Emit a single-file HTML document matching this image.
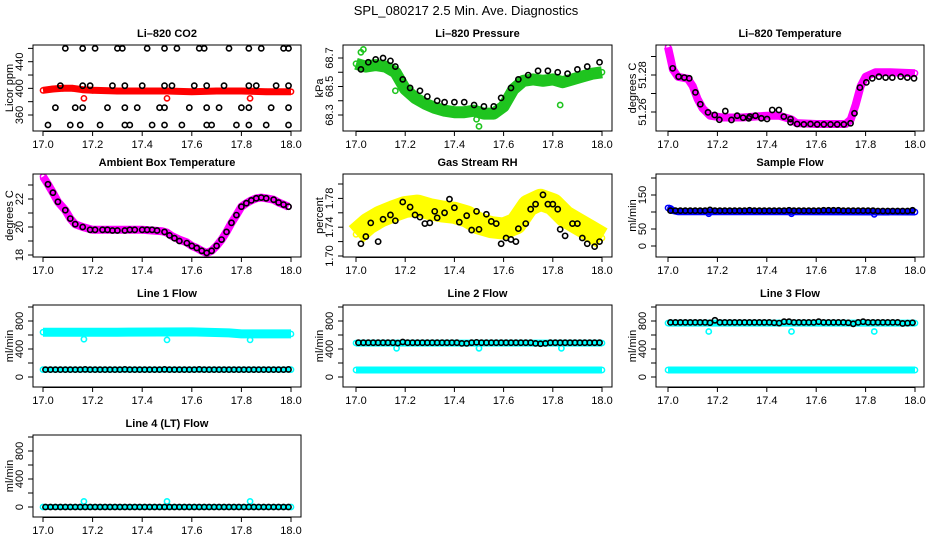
<!DOCTYPE html>
<html><head><meta charset="utf-8"><style>
html,body{margin:0;padding:0;background:#fff}
svg{display:block}
text{font-family:"Liberation Sans",sans-serif}
</style></head><body>
<svg id="chart" width="936" height="540" viewBox="0 0 936 540">
<rect width="936" height="540" fill="#fff"/>
<text x="466" y="15" font-size="13" text-anchor="middle">SPL_080217  2.5 Min. Ave. Diagnostics</text>
</svg>
<script>
// ---- data ----
const xTicks = [17.0,17.2,17.4,17.6,17.8,18.0];
const xTickLabels = ["17.0","17.2","17.4","17.6","17.8","18.0"];

const co2RedT = [17.0,17.04,17.08,17.12,17.16,17.2,17.3,17.4,17.5,17.6,17.7,17.8,17.9,18.0];
const co2RedV = [397,399,400,400,398,397,396,396,396,395,396,396,395,395];
const co2OutT = [17.165,17.5,17.835];
const co2OutV = [385,385,385];
const co2BlackT = [17.09,17.16,17.21,17.30,17.32,17.42,17.49,17.54,17.63,17.65,17.75,17.83,17.88,17.97,17.99,
 17.07,17.16,17.19,17.28,17.33,17.40,17.49,17.52,17.61,17.66,17.73,17.83,17.86,17.94,17.99,
 17.05,17.13,17.16,17.26,17.33,17.38,17.47,17.49,17.59,17.66,17.71,17.80,17.83,17.92,17.99,
 17.02,17.11,17.15,17.23,17.33,17.35,17.44,17.49,17.56,17.66,17.68,17.78,17.83,17.90,17.99];
const co2BlackV = [460,460,460,460,460,460,460,460,460,460,460,460,460,460,460,
 404,404,404,404,404,404,404,404,404,404,404,404,404,404,404,
 371,371,371,371,371,371,371,371,371,371,371,371,371,371,371,
 345,345,345,345,345,345,345,345,345,345,345,345,345,345,345];
const co2YTicks = [360,380,400,420,440,460];
const co2YLabels = ["360","400","440"];

const presGreenT = [17.0,17.04,17.08,17.12,17.16,17.20,17.24,17.28,17.32,17.36,17.40,17.44,17.48,17.52,17.56,17.60,17.64,17.68,17.72,17.76,17.80,17.84,17.88,17.92,17.96,18.0];
const presGreenV = [68.66,68.64,68.65,68.64,68.60,68.48,68.42,68.38,68.35,68.33,68.32,68.32,68.33,68.31,68.31,68.36,68.48,68.54,68.55,68.54,68.55,68.53,68.55,68.57,68.59,68.60];
const presOutT = [17.02,17.03,17.05,17.16,17.49,17.50,17.83];
const presOutV = [68.74,68.76,68.66,68.47,68.27,68.22,68.37];
const presBlackT = [17.02,17.05,17.08,17.11,17.14,17.16,17.19,17.22,17.26,17.29,17.33,17.36,17.40,17.44,17.48,17.52,17.56,17.59,17.63,17.66,17.70,17.74,17.78,17.82,17.86,17.90,17.94,17.99];
const presBlackV = [68.62,68.67,68.69,68.70,68.68,68.64,68.55,68.49,68.47,68.43,68.40,68.39,68.39,68.39,68.37,68.36,68.36,68.42,68.49,68.55,68.58,68.61,68.61,68.60,68.59,68.62,68.64,68.67];
const presYTicks = [68.3,68.4,68.5,68.6,68.7];
const presYLabels = ["68.3","68.5","68.7"];

const tempMagT = [17.0,17.01,17.02,17.04,17.08,17.10,17.12,17.14,17.17,17.22,17.3,17.4,17.45,17.5,17.52,17.6,17.72,17.74,17.76,17.78,17.8,17.84,17.9,18.0];
const tempMagV = [51.295,51.289,51.283,51.279,51.278,51.274,51.267,51.262,51.258,51.257,51.257,51.258,51.258,51.256,51.254,51.2535,51.2535,51.256,51.264,51.274,51.279,51.2815,51.2815,51.281];
const tempBlackT = [17.019,17.043,17.066,17.086,17.111,17.131,17.162,17.189,17.208,17.232,17.257,17.280,17.304,17.327,17.331,17.354,17.378,17.401,17.422,17.449,17.469,17.496,17.496,17.523,17.55,17.577,17.604,17.631,17.658,17.685,17.712,17.739,17.755,17.777,17.803,17.827,17.854,17.881,17.908,17.942,17.969,17.996];
const tempBlackV = [51.2836,51.2791,51.2786,51.2782,51.2706,51.2642,51.2598,51.2584,51.2558,51.2605,51.2557,51.2580,51.2569,51.2566,51.2575,51.2580,51.2566,51.2562,51.2611,51.2611,51.2575,51.2562,51.2544,51.2535,51.2533,51.2535,51.2533,51.2533,51.2533,51.2533,51.2533,51.2539,51.2593,51.2732,51.2760,51.2782,51.2791,51.2786,51.2786,51.2791,51.2786,51.2782];
const tempYTicks = [51.26,51.27,51.28,51.29];
const tempYLabels = ["51.26","51.28"];

const ambT = [17.0,17.02,17.04,17.06,17.09,17.11,17.13,17.16,17.2,17.3,17.4,17.48,17.5,17.52,17.55,17.58,17.6,17.62,17.64,17.66,17.68,17.70,17.72,17.74,17.76,17.78,17.80,17.82,17.84,17.86,17.88,17.90,17.93,17.95,17.97,17.99];
const ambV = [23.6,23.05,22.45,21.8,21.2,20.6,20.2,20.0,19.8,19.8,19.8,19.7,19.6,19.35,19.1,18.9,18.65,18.5,18.3,18.15,18.3,18.65,19.1,19.65,20.3,20.85,21.45,21.7,21.9,22.05,22.1,22.05,21.95,21.75,21.6,21.45];
const ambBlackT = [17.02,17.04,17.06,17.09,17.11,17.13,17.16,17.19,17.21,17.24,17.26,17.28,17.30,17.33,17.35,17.37,17.40,17.42,17.44,17.46,17.49,17.51,17.53,17.55,17.58,17.60,17.62,17.64,17.66,17.68,17.70,17.72,17.74,17.76,17.78,17.80,17.82,17.84,17.86,17.88,17.90,17.93,17.95,17.97,17.99];
const ambBlackV = [23.05,22.45,21.8,21.2,20.6,20.2,20.0,19.8,19.8,19.8,19.8,19.75,19.75,19.75,19.8,19.8,19.8,19.8,19.8,19.75,19.65,19.4,19.2,19.0,18.85,18.65,18.5,18.3,18.15,18.3,18.65,19.1,19.65,20.3,20.85,21.45,21.7,21.9,22.05,22.1,22.05,21.95,21.75,21.6,21.45];
const ambYTicks = [18,19,20,21,22,23];
const ambYLabels = ["18","20","22"];

const rhYellowT = [17.0,17.05,17.1,17.15,17.2,17.25,17.3,17.35,17.4,17.45,17.5,17.55,17.6,17.65,17.7,17.75,17.8,17.85,17.9,17.95,18.0];
const rhYellowV = [1.73,1.745,1.755,1.762,1.768,1.77,1.765,1.762,1.76,1.755,1.745,1.74,1.738,1.745,1.77,1.778,1.772,1.755,1.745,1.735,1.725];
const rhBlackT = [17.02,17.04,17.06,17.09,17.11,17.14,17.16,17.19,17.22,17.24,17.26,17.28,17.30,17.32,17.33,17.36,17.38,17.40,17.42,17.45,17.47,17.49,17.50,17.53,17.55,17.57,17.59,17.61,17.63,17.65,17.66,17.69,17.71,17.73,17.76,17.78,17.80,17.82,17.83,17.85,17.88,17.90,17.92,17.94,17.97,17.99];
const rhBlackV = [1.717,1.727,1.746,1.72,1.751,1.757,1.749,1.775,1.768,1.757,1.754,1.745,1.746,1.762,1.753,1.76,1.779,1.767,1.747,1.756,1.736,1.762,1.737,1.758,1.748,1.745,1.717,1.725,1.723,1.72,1.738,1.745,1.765,1.772,1.785,1.772,1.772,1.765,1.737,1.728,1.745,1.745,1.725,1.717,1.713,1.72];
const rhYTicks = [1.70,1.72,1.74,1.76,1.78,1.80];
const rhYLabels = ["1.70","1.74","1.78"];

const flowT = [17.01,17.03,17.05,17.07,17.09,17.11,17.13,17.15,17.17,17.19,17.21,17.23,17.25,17.27,17.29,17.31,17.33,17.35,17.37,17.39,17.41,17.43,17.45,17.47,17.49,17.51,17.53,17.55,17.57,17.59,17.61,17.63,17.65,17.67,17.69,17.71,17.73,17.75,17.77,17.79,17.81,17.83,17.85,17.87,17.89,17.91,17.93,17.95,17.97,17.99];
const sampleBlackV = [104,104,104,104,104,104,104,104,106,104,104,104,104,104,104,104,105,104,104,104,104,104,104,104,105,104,104,104,104,104,104,105,105,105,105,104,104,104,104,104,104,104,103,103,103,103,103,103,103,105];
const sampleBlueT = [17.0,17.01,17.02,17.04,17.5,18.0];
const sampleBlueV = [112,110,104,101,101,100];
const outT = [17.165,17.5,17.835];
const sampleOutV = [95,95,93];
const sampleYTicks = [0,50,100,150,200];
const sampleYLabels = ["0","50","150"];

const line1BlackV = [105,105,105,105,105,105,105,105,108,105,105,105,105,105,105,105,108,105,105,105,105,105,105,105,108,105,105,105,105,105,105,108,105,105,105,105,105,105,105,105,105,105,105,105,105,105,105,105,105,108];
const line1UpT = [17.0,17.3,17.6,17.75,17.8,18.0];
const line1UpV = [640,640,645,630,615,615];
const line1LowV = [105,105];
const line1OutV = [540,530,530];

const line2BlackV = [490,490,490,490,490,490,490,490,485,500,490,490,490,490,490,490,490,490,490,490,490,480,480,490,495,490,490,490,490,490,490,490,490,490,490,490,480,475,480,490,490,490,490,490,490,490,490,490,490,490];
const line2UpV = [485,485];
const line2LowV = [100,100];
const line2OutV = [410,410,410];

const line3BlackV = [780,780,780,780,780,780,780,780,775,810,780,780,780,780,780,780,780,780,780,780,780,775,770,790,790,780,780,780,780,780,790,780,780,780,780,780,775,760,780,790,780,780,780,780,780,780,780,765,770,775];
const line3UpV = [770,770];
const line3LowV = [100,100];
const line3OutV = [650,650,650];

const line4BlackV = [0,0,0,0,0,0,0,0,0,0,0,0,0,0,0,0,0,0,0,0,0,0,0,0,0,0,0,0,0,0,0,0,0,0,0,0,0,0,0,0,0,0,0,0,0,0,0,0,0,0];
const line4CyanV = [0,0];
const line4OutV = [80,80,80];
const flowSpanT = [17.0,18.0];
const flowYTicks = [0,200,400,600,800,1000];
const flowYLabels = ["0","400","800"];

// ---- drawing ----
const NS = "http://www.w3.org/2000/svg";
const svg = document.getElementById("chart");
function el(tag, attrs, parent){
  const e = document.createElementNS(NS, tag);
  for (const k in attrs) e.setAttribute(k, attrs[k]);
  (parent||svg).appendChild(e);
  return e;
}
const cols = [{l:33,r:301,x0:43,x1:291},{l:343,r:612,x0:356,x1:602},{l:656,r:924,x0:668,x1:915}];
const rows = [{t:45,b:131},{t:174,b:257},{t:305,b:387},{t:435,b:517}];

function panel(name, title, col, row, ref, yTicks, yLabels, ylab, series){
  const C = cols[col], R = rows[row];
  const g = el("g", {});
  
  
  const xs = t => C.x0 + (t - 17) * (C.x1 - C.x0);
  const ys = v => ref[1] + (v - ref[0]) * (ref[3] - ref[1]) / (ref[2] - ref[0]);
  const clip = el("clipPath", {id: "clip-" + name}, g);
  el("rect", {x: C.l, y: R.t, width: C.r - C.l, height: R.b - R.t}, clip);
  const dg = el("g", {"clip-path": "url(#clip-" + name + ")"}, g);
  
  
  series.forEach(s => {
    if (s.kind === "band") {
      const pts = s.t.map((t, i) => xs(t).toFixed(1) + "," + ys(s.v[i]).toFixed(1)).join(" ");
      const pl = el("polyline", {points: pts, fill: "none", stroke: s.color, "stroke-width": s.w, "stroke-linejoin": "round", "stroke-linecap": "butt"}, dg);
      
      
      s.t.forEach((t, i) => {
        const c = el("circle", {cx: xs(t), cy: ys(s.v[i]), r: 2.6, fill: "none", stroke: s.color, "stroke-width": 1.5}, dg);
        
        
      });
    } else {
      s.t.forEach((t, i) => {
        const c = el("circle", {cx: xs(t), cy: ys(s.v[i]), r: 2.6, fill: "none", stroke: s.color, "stroke-width": 1.6}, dg);
        
        
      });
    }
  });
  const box = el("rect", {x: C.l, y: R.t, width: C.r - C.l, height: R.b - R.t, fill: "none", stroke: "#000", "stroke-width": 1}, g);
  
  
  const tt = el("text", {x: (C.l + C.r) / 2, y: R.t - 8, "font-size": 11, "font-weight": "bold", "text-anchor": "middle"}, g);
  tt.textContent = title;
  
  
  // x axis
  el("line", {x1: xs(xTicks[0]), x2: xs(xTicks[xTicks.length-1]), y1: R.b + 0.5, y2: R.b + 0.5, stroke: "#000"}, g);
  xTicks.forEach((t, i) => {
    el("line", {x1: xs(t), x2: xs(t), y1: R.b, y2: R.b + 5, stroke: "#000"}, g);
    const tx = el("text", {x: xs(t), y: R.b + 17, "font-size": 11, "text-anchor": "middle"}, g);
    tx.textContent = xTickLabels[i];
    
    
  });
  // y axis
  yTicks.forEach(v => {
    el("line", {x1: C.l - 5, x2: C.l, y1: ys(v), y2: ys(v), stroke: "#000"}, g);
  });
  yLabels.forEach(lbl => {
    const v = parseFloat(lbl);
    const ty = el("text", {x: 0, y: 0, "font-size": 11, "text-anchor": "middle", transform: "translate(" + (C.l - 10) + "," + ys(v) + ") rotate(-90)"}, g);
    ty.textContent = lbl;
    
    
  });
  const yl = el("text", {x: 0, y: 0, "font-size": 11, "text-anchor": "middle", transform: "translate(" + (C.l - 20) + "," + ((R.t + R.b) / 2) + ") rotate(-90)"}, g);
  yl.textContent = ylab;
  
  
}

panel("co2", "Li\u2013820 CO2", 0, 0, [360,115,440,61.7], co2YTicks, co2YLabels, "Licor ppm", [
  {kind:"band", name:"co2-red", t:co2RedT, v:co2RedV, color:"#ff0000", w:7},
  {kind:"pts", name:"co2-red-outlier", t:co2OutT, v:co2OutV, color:"#ff0000"},
  {kind:"pts", name:"co2-black", t:co2BlackT, v:co2BlackV, color:"#000"}]);
panel("pressure", "Li\u2013820 Pressure", 1, 0, [68.3,115,68.7,58], presYTicks, presYLabels, "kPa", [
  {kind:"band", name:"pressure-green", t:presGreenT, v:presGreenV, color:"#1fc41f", w:12},
  {kind:"pts", name:"pressure-green-outlier", t:presOutT, v:presOutV, color:"#1fc41f"},
  {kind:"pts", name:"pressure-black", t:presBlackT, v:presBlackV, color:"#000"}]);
panel("temperature", "Li\u2013820 Temperature", 2, 0, [51.26,112,51.28,75], tempYTicks, tempYLabels, "degrees C", [
  {kind:"band", name:"temp-magenta", t:tempMagT, v:tempMagV, color:"#ff00ff", w:8},
  {kind:"pts", name:"temp-black", t:tempBlackT, v:tempBlackV, color:"#000"}]);
panel("ambient", "Ambient Box Temperature", 0, 1, [18,255,22,199], ambYTicks, ambYLabels, "degrees C", [
  {kind:"band", name:"ambient-magenta", t:ambT, v:ambV, color:"#ff00ff", w:8},
  {kind:"pts", name:"ambient-black", t:ambBlackT, v:ambBlackV, color:"#000"}]);
panel("rh", "Gas Stream RH", 1, 1, [1.70,256,1.78,198.4], rhYTicks, rhYLabels, "percent", [
  {kind:"band", name:"rh-yellow", t:rhYellowT, v:rhYellowV, color:"#ffff00", w:22},
  {kind:"pts", name:"rh-black", t:rhBlackT, v:rhBlackV, color:"#000"}]);
panel("sample-flow", "Sample Flow", 2, 1, [0,246,150,195], sampleYTicks, sampleYLabels, "ml/min", [
  {kind:"band", name:"sample-blue", t:sampleBlueT, v:sampleBlueV, color:"#0000ff", w:7},
  {kind:"pts", name:"sample-blue-outlier", t:outT, v:sampleOutV, color:"#0000ff"},
  {kind:"pts", name:"sample-black", t:flowT, v:sampleBlackV, color:"#000"}]);
panel("line1", "Line 1 Flow", 0, 2, [0,377,800,321], flowYTicks, flowYLabels, "ml/min", [
  {kind:"band", name:"line1-cyan-upper", t:line1UpT, v:line1UpV, color:"#00ffff", w:9},
  {kind:"band", name:"line1-cyan-lower", t:flowSpanT, v:line1LowV, color:"#00ffff", w:6},
  {kind:"pts", name:"line1-cyan-outlier", t:outT, v:line1OutV, color:"#00ffff"},
  {kind:"pts", name:"line1-black", t:flowT, v:line1BlackV, color:"#000"}]);
panel("line2", "Line 2 Flow", 1, 2, [0,377,800,321], flowYTicks, flowYLabels, "ml/min", [
  {kind:"band", name:"line2-cyan-upper", t:flowSpanT, v:line2UpV, color:"#00ffff", w:7},
  {kind:"band", name:"line2-cyan-lower", t:flowSpanT, v:line2LowV, color:"#00ffff", w:7},
  {kind:"pts", name:"line2-cyan-outlier", t:outT, v:line2OutV, color:"#00ffff"},
  {kind:"pts", name:"line2-black", t:flowT, v:line2BlackV, color:"#000"}]);
panel("line3", "Line 3 Flow", 2, 2, [0,377,800,321], flowYTicks, flowYLabels, "ml/min", [
  {kind:"band", name:"line3-cyan-upper", t:flowSpanT, v:line3UpV, color:"#00ffff", w:7},
  {kind:"band", name:"line3-cyan-lower", t:flowSpanT, v:line3LowV, color:"#00ffff", w:7},
  {kind:"pts", name:"line3-cyan-outlier", t:outT, v:line3OutV, color:"#00ffff"},
  {kind:"pts", name:"line3-black", t:flowT, v:line3BlackV, color:"#000"}]);
panel("line4", "Line 4 (LT) Flow", 0, 3, [0,507,800,451], flowYTicks, flowYLabels, "ml/min", [
  {kind:"band", name:"line4-cyan", t:flowSpanT, v:line4CyanV, color:"#00ffff", w:6},
  {kind:"pts", name:"line4-cyan-outlier", t:outT, v:line4OutV, color:"#00ffff"},
  {kind:"pts", name:"line4-black", t:flowT, v:line4BlackV, color:"#000"}]);
</script>
</body></html>
